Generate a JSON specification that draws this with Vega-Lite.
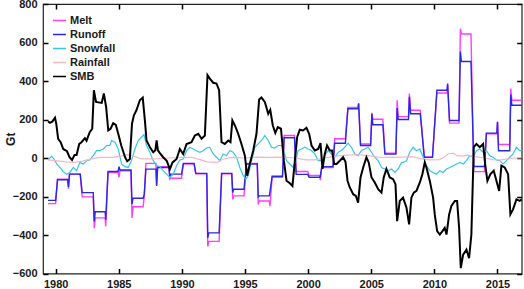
{
  "$schema": "https://vega.github.io/schema/vega-lite/v6.json",
  "width": 478.7,
  "height": 269.5,
  "autosize": "none",
  "padding": {"left": 43, "top": 4, "right": 2.3, "bottom": 15.5},
  "background": "white",
  "config": {
    "view": {"stroke": "#222222", "strokeWidth": 1.2},
    "axis": {"ticks": true, "zindex": 1, "labelFont": "Liberation Sans", "labelFontWeight": "bold", "labelFontSize": 11, "labelColor": "#1a1a1a", "tickColor": "#000000", "tickWidth": 1.5, "tickSize": 5, "tickOpacity": 1, "offset": -5, "domain": false, "grid": false, "titleFont": "Liberation Sans", "titleFontWeight": "bold", "titleFontSize": 12, "titleColor": "#1a1a1a"},
    "legend": {"labelFont": "Liberation Sans", "labelFontWeight": "bold", "labelFontSize": 11, "labelColor": "#1a1a1a", "padding": 0, "rowPadding": 1, "symbolSize": 169, "symbolStrokeWidth": 1.5, "labelOffset": 3}
  },
  "datasets": {
    "melt": [
      {"t":1979.4,"v":-237},{"t":1980.0,"v":-237},{"t":1980.15,"v":-110},{"t":1980.95,"v":-110},{"t":1981.02,"v":-160},{"t":1981.1,"v":-84},{"t":1981.95,"v":-84},{"t":1982.1,"v":-202},{"t":1982.98,"v":-202},{"t":1983.06,"v":-365},{"t":1983.14,"v":-311},{"t":1983.92,"v":-311},{"t":1983.97,"v":-355},{"t":1984.15,"v":-75},{"t":1984.95,"v":-75},{"t":1985.02,"v":-100},{"t":1985.1,"v":-66},{"t":1985.97,"v":-66},{"t":1986.05,"v":-311},{"t":1986.13,"v":-253},{"t":1986.93,"v":-253},{"t":1987.02,"v":-200},{"t":1987.15,"v":-28},{"t":1987.95,"v":-28},{"t":1988.0,"v":-140},{"t":1988.08,"v":-45},{"t":1988.97,"v":-45},{"t":1989.05,"v":-110},{"t":1989.12,"v":-105},{"t":1989.97,"v":-105},{"t":1990.12,"v":-31},{"t":1990.97,"v":-31},{"t":1991.1,"v":-82},{"t":1991.97,"v":-82},{"t":1992.05,"v":-459},{"t":1992.13,"v":-433},{"t":1992.95,"v":-433},{"t":1993.15,"v":-82},{"t":1993.95,"v":-82},{"t":1994.03,"v":-215},{"t":1994.1,"v":-197},{"t":1994.92,"v":-197},{"t":1995.12,"v":-28},{"t":1995.97,"v":-28},{"t":1996.05,"v":-241},{"t":1996.12,"v":-223},{"t":1996.93,"v":-223},{"t":1996.98,"v":-250},{"t":1997.15,"v":-100},{"t":1997.97,"v":-100},{"t":1998.1,"v":117},{"t":1998.92,"v":117},{"t":1999.05,"v":-70},{"t":1999.97,"v":-70},{"t":2000.08,"v":-90},{"t":2000.9,"v":-90},{"t":2000.97,"v":-115},{"t":2001.08,"v":-50},{"t":2001.97,"v":-50},{"t":2002.1,"v":100},{"t":2002.95,"v":100},{"t":2003.15,"v":262},{"t":2003.95,"v":262},{"t":2004.0,"v":285},{"t":2004.15,"v":73},{"t":2004.95,"v":73},{"t":2005.05,"v":235},{"t":2005.13,"v":201},{"t":2005.92,"v":201},{"t":2006.08,"v":25},{"t":2006.95,"v":25},{"t":2007.05,"v":300},{"t":2007.13,"v":215},{"t":2007.95,"v":215},{"t":2008.02,"v":335},{"t":2008.12,"v":248},{"t":2008.88,"v":248},{"t":2009.2,"v":5},{"t":2009.85,"v":5},{"t":2010.2,"v":338},{"t":2011.0,"v":338},{"t":2011.05,"v":380},{"t":2011.2,"v":181},{"t":2011.95,"v":181},{"t":2012.06,"v":672},{"t":2012.14,"v":644},{"t":2012.9,"v":644},{"t":2013.12,"v":-71},{"t":2013.97,"v":-71},{"t":2014.12,"v":126},{"t":2014.95,"v":126},{"t":2015.0,"v":190},{"t":2015.08,"v":70},{"t":2015.97,"v":70},{"t":2016.05,"v":361},{"t":2016.14,"v":300},{"t":2016.917,"v":300}
    ],
    "runoff": [
      {"t":1979.4,"v":-220},{"t":1980.0,"v":-220},{"t":1980.15,"v":-113},{"t":1980.95,"v":-113},{"t":1981.02,"v":-150},{"t":1981.1,"v":-84},{"t":1981.95,"v":-84},{"t":1982.1,"v":-180},{"t":1982.98,"v":-180},{"t":1983.06,"v":-330},{"t":1983.14,"v":-279},{"t":1983.92,"v":-279},{"t":1983.97,"v":-320},{"t":1984.15,"v":-70},{"t":1984.95,"v":-70},{"t":1985.02,"v":-45},{"t":1985.1,"v":-62},{"t":1985.97,"v":-62},{"t":1986.05,"v":-240},{"t":1986.13,"v":-209},{"t":1986.93,"v":-209},{"t":1987.02,"v":-190},{"t":1987.15,"v":-58},{"t":1987.95,"v":-58},{"t":1988.0,"v":-145},{"t":1988.08,"v":-49},{"t":1988.97,"v":-49},{"t":1989.05,"v":-100},{"t":1989.12,"v":-84},{"t":1989.97,"v":-84},{"t":1990.12,"v":-28},{"t":1990.97,"v":-28},{"t":1991.1,"v":-80},{"t":1991.97,"v":-80},{"t":1992.05,"v":-415},{"t":1992.13,"v":-389},{"t":1992.95,"v":-389},{"t":1993.15,"v":-80},{"t":1993.95,"v":-80},{"t":1994.03,"v":-180},{"t":1994.1,"v":-162},{"t":1994.92,"v":-162},{"t":1995.12,"v":-31},{"t":1995.97,"v":-31},{"t":1996.05,"v":-202},{"t":1996.12,"v":-197},{"t":1996.93,"v":-197},{"t":1997.15,"v":-95},{"t":1997.97,"v":-95},{"t":1998.1,"v":105},{"t":1998.92,"v":105},{"t":1999.05,"v":-85},{"t":1999.97,"v":-85},{"t":2000.08,"v":-100},{"t":2000.95,"v":-100},{"t":2001.08,"v":-45},{"t":2001.97,"v":-45},{"t":2002.1,"v":77},{"t":2002.95,"v":77},{"t":2003.15,"v":256},{"t":2003.95,"v":256},{"t":2004.0,"v":283},{"t":2004.15,"v":65},{"t":2004.95,"v":65},{"t":2005.05,"v":230},{"t":2005.13,"v":173},{"t":2005.92,"v":173},{"t":2006.08,"v":20},{"t":2006.95,"v":20},{"t":2007.05,"v":260},{"t":2007.13,"v":200},{"t":2007.95,"v":200},{"t":2008.02,"v":318},{"t":2008.12,"v":230},{"t":2008.88,"v":230},{"t":2009.2,"v":3},{"t":2009.85,"v":3},{"t":2010.2,"v":352},{"t":2011.0,"v":352},{"t":2011.05,"v":387},{"t":2011.2,"v":195},{"t":2011.95,"v":195},{"t":2012.06,"v":553},{"t":2012.14,"v":501},{"t":2012.9,"v":501},{"t":2013.12,"v":-44},{"t":2013.97,"v":-44},{"t":2014.12,"v":129},{"t":2014.95,"v":129},{"t":2015.0,"v":187},{"t":2015.08,"v":38},{"t":2015.97,"v":38},{"t":2016.05,"v":330},{"t":2016.14,"v":274},{"t":2016.917,"v":274}
    ],
    "snow": [
      {"t":1979.4,"v":-10},{"t":1979.68,"v":9},{"t":1979.87,"v":-5},{"t":1980.08,"v":-31},{"t":1980.34,"v":-49},{"t":1980.6,"v":-71},{"t":1980.87,"v":-84},{"t":1981.13,"v":-75},{"t":1981.4,"v":-49},{"t":1981.66,"v":-66},{"t":1981.92,"v":-23},{"t":1982.19,"v":-31},{"t":1982.45,"v":-14},{"t":1982.7,"v":-10},{"t":1982.98,"v":12},{"t":1983.24,"v":38},{"t":1983.51,"v":38},{"t":1983.77,"v":47},{"t":1984.04,"v":65},{"t":1984.3,"v":65},{"t":1984.43,"v":91},{"t":1984.7,"v":82},{"t":1984.96,"v":47},{"t":1985.22,"v":-31},{"t":1985.5,"v":-45},{"t":1985.75,"v":-49},{"t":1986.0,"v":-14},{"t":1986.28,"v":47},{"t":1986.54,"v":91},{"t":1986.8,"v":108},{"t":1987.0,"v":122},{"t":1987.2,"v":65},{"t":1987.47,"v":30},{"t":1987.73,"v":-14},{"t":1988.0,"v":-40},{"t":1988.26,"v":-45},{"t":1988.52,"v":-66},{"t":1988.8,"v":-84},{"t":1989.05,"v":-101},{"t":1989.31,"v":-84},{"t":1989.58,"v":-40},{"t":1989.84,"v":-10},{"t":1990.1,"v":-5},{"t":1990.37,"v":38},{"t":1990.63,"v":56},{"t":1990.9,"v":47},{"t":1991.16,"v":38},{"t":1991.42,"v":30},{"t":1991.69,"v":38},{"t":1991.95,"v":52},{"t":1992.2,"v":56},{"t":1992.48,"v":21},{"t":1992.74,"v":4},{"t":1993.01,"v":-14},{"t":1993.27,"v":21},{"t":1993.54,"v":12},{"t":1993.8,"v":38},{"t":1994.06,"v":30},{"t":1994.33,"v":4},{"t":1994.59,"v":-49},{"t":1994.86,"v":-92},{"t":1995.07,"v":-110},{"t":1995.25,"v":-92},{"t":1995.52,"v":-14},{"t":1995.78,"v":56},{"t":1996.04,"v":73},{"t":1996.3,"v":91},{"t":1996.57,"v":117},{"t":1996.84,"v":91},{"t":1997.1,"v":56},{"t":1997.36,"v":52},{"t":1997.63,"v":65},{"t":1997.89,"v":65},{"t":1998.02,"v":47},{"t":1998.29,"v":-14},{"t":1998.55,"v":-31},{"t":1998.81,"v":-49},{"t":1999.03,"v":-14},{"t":1999.21,"v":39},{"t":1999.47,"v":47},{"t":1999.74,"v":56},{"t":2000.0,"v":47},{"t":2000.27,"v":39},{"t":2000.53,"v":21},{"t":2000.8,"v":-14},{"t":2001.06,"v":-14},{"t":2001.32,"v":12},{"t":2001.59,"v":39},{"t":2001.85,"v":21},{"t":2002.11,"v":4},{"t":2002.38,"v":30},{"t":2002.64,"v":39},{"t":2002.9,"v":56},{"t":2003.17,"v":77},{"t":2003.43,"v":56},{"t":2003.7,"v":21},{"t":2003.96,"v":12},{"t":2004.23,"v":39},{"t":2004.49,"v":47},{"t":2004.75,"v":56},{"t":2005.02,"v":30},{"t":2005.28,"v":4},{"t":2005.55,"v":-14},{"t":2005.81,"v":-49},{"t":2006.07,"v":-57},{"t":2006.34,"v":-66},{"t":2006.6,"v":-57},{"t":2006.87,"v":-75},{"t":2007.13,"v":-57},{"t":2007.4,"v":-23},{"t":2007.52,"v":-23},{"t":2007.79,"v":-14},{"t":2008.05,"v":30},{"t":2008.32,"v":56},{"t":2008.58,"v":38},{"t":2008.85,"v":47},{"t":2009.11,"v":4},{"t":2009.37,"v":-40},{"t":2009.64,"v":-66},{"t":2009.9,"v":-75},{"t":2010.16,"v":-84},{"t":2010.43,"v":-66},{"t":2010.69,"v":-75},{"t":2010.96,"v":-57},{"t":2011.22,"v":-49},{"t":2011.48,"v":-40},{"t":2011.75,"v":-31},{"t":2012.01,"v":-23},{"t":2012.28,"v":-31},{"t":2012.54,"v":-14},{"t":2012.8,"v":12},{"t":2013.07,"v":4},{"t":2013.33,"v":38},{"t":2013.6,"v":47},{"t":2013.86,"v":30},{"t":2014.12,"v":38},{"t":2014.39,"v":12},{"t":2014.65,"v":4},{"t":2014.92,"v":-10},{"t":2015.18,"v":-14},{"t":2015.44,"v":-31},{"t":2015.71,"v":-14},{"t":2015.97,"v":4},{"t":2016.23,"v":21},{"t":2016.5,"v":56},{"t":2016.76,"v":38},{"t":2016.917,"v":40}
    ],
    "rain": [
      {"t":1979.4,"v":-10},{"t":1980.0,"v":-14},{"t":1980.8,"v":-20},{"t":1981.5,"v":-23},{"t":1982.0,"v":-18},{"t":1982.8,"v":-5},{"t":1983.5,"v":3},{"t":1984.5,"v":3},{"t":1985.2,"v":10},{"t":1985.6,"v":17},{"t":1986.2,"v":10},{"t":1986.8,"v":-5},{"t":1987.5,"v":-5},{"t":1988.3,"v":-3},{"t":1989.0,"v":0},{"t":1990.0,"v":3},{"t":1990.8,"v":3},{"t":1991.5,"v":-10},{"t":1992.0,"v":-20},{"t":1992.8,"v":-23},{"t":1993.3,"v":-5},{"t":1994.0,"v":3},{"t":1995.0,"v":0},{"t":1996.0,"v":5},{"t":1997.0,"v":3},{"t":1998.0,"v":5},{"t":1999.0,"v":0},{"t":1999.8,"v":-10},{"t":2000.6,"v":-10},{"t":2001.3,"v":0},{"t":2002.2,"v":10},{"t":2003.0,"v":15},{"t":2004.0,"v":17},{"t":2004.8,"v":12},{"t":2005.5,"v":5},{"t":2006.5,"v":3},{"t":2007.5,"v":5},{"t":2008.3,"v":7},{"t":2009.0,"v":-5},{"t":2009.6,"v":-10},{"t":2010.4,"v":-8},{"t":2010.8,"v":5},{"t":2011.1,"v":22},{"t":2011.5,"v":25},{"t":2011.8,"v":12},{"t":2012.2,"v":10},{"t":2012.6,"v":15},{"t":2013.0,"v":10},{"t":2013.5,"v":5},{"t":2014.0,"v":0},{"t":2014.6,"v":-8},{"t":2015.3,"v":-10},{"t":2015.8,"v":-5},{"t":2016.3,"v":0},{"t":2016.917,"v":0}
    ],
    "smb": [
      {"t":1979.4,"v":190},{"t":1979.55,"v":183},{"t":1979.75,"v":190},{"t":1979.95,"v":209},{"t":1980.05,"v":178},{"t":1980.2,"v":99},{"t":1980.4,"v":82},{"t":1980.6,"v":47},{"t":1980.9,"v":35},{"t":1981.1,"v":4},{"t":1981.3,"v":-10},{"t":1981.5,"v":16},{"t":1981.66,"v":16},{"t":1981.87,"v":73},{"t":1982.05,"v":82},{"t":1982.32,"v":103},{"t":1982.45,"v":90},{"t":1982.7,"v":134},{"t":1982.9,"v":152},{"t":1983.03,"v":352},{"t":1983.2,"v":291},{"t":1983.65,"v":286},{"t":1983.82,"v":335},{"t":1984.0,"v":265},{"t":1984.17,"v":143},{"t":1984.35,"v":152},{"t":1984.56,"v":181},{"t":1984.77,"v":172},{"t":1984.96,"v":126},{"t":1985.2,"v":65},{"t":1985.5,"v":4},{"t":1985.67,"v":-17},{"t":1985.88,"v":-5},{"t":1986.05,"v":178},{"t":1986.2,"v":222},{"t":1986.4,"v":248},{"t":1986.67,"v":300},{"t":1986.9,"v":314},{"t":1987.07,"v":195},{"t":1987.2,"v":91},{"t":1987.47,"v":56},{"t":1987.73,"v":30},{"t":1987.9,"v":40},{"t":1988.0,"v":91},{"t":1988.1,"v":40},{"t":1988.26,"v":25},{"t":1988.52,"v":4},{"t":1988.8,"v":-14},{"t":1989.05,"v":-58},{"t":1989.26,"v":-23},{"t":1989.58,"v":-5},{"t":1989.84,"v":47},{"t":1990.1,"v":21},{"t":1990.37,"v":73},{"t":1990.76,"v":82},{"t":1991.03,"v":117},{"t":1991.3,"v":126},{"t":1991.56,"v":100},{"t":1991.82,"v":117},{"t":1992.03,"v":431},{"t":1992.2,"v":414},{"t":1992.48,"v":391},{"t":1992.74,"v":387},{"t":1992.95,"v":352},{"t":1993.14,"v":82},{"t":1993.4,"v":73},{"t":1993.67,"v":91},{"t":1993.85,"v":82},{"t":1994.0,"v":195},{"t":1994.2,"v":169},{"t":1994.46,"v":126},{"t":1994.72,"v":73},{"t":1994.99,"v":12},{"t":1995.17,"v":-92},{"t":1995.38,"v":-31},{"t":1995.65,"v":38},{"t":1995.91,"v":126},{"t":1996.12,"v":304},{"t":1996.3,"v":314},{"t":1996.57,"v":291},{"t":1996.84,"v":230},{"t":1997.0,"v":250},{"t":1997.2,"v":170},{"t":1997.4,"v":130},{"t":1997.6,"v":160},{"t":1997.85,"v":152},{"t":1998.08,"v":-14},{"t":1998.29,"v":-118},{"t":1998.55,"v":-131},{"t":1998.76,"v":-145},{"t":1998.95,"v":-14},{"t":1999.13,"v":108},{"t":1999.34,"v":147},{"t":1999.6,"v":143},{"t":1999.87,"v":157},{"t":2000.08,"v":126},{"t":2000.27,"v":65},{"t":2000.53,"v":39},{"t":2000.8,"v":47},{"t":2000.98,"v":77},{"t":2001.14,"v":-57},{"t":2001.32,"v":21},{"t":2001.5,"v":65},{"t":2001.72,"v":39},{"t":2001.9,"v":39},{"t":2002.06,"v":-31},{"t":2002.25,"v":-31},{"t":2002.51,"v":-14},{"t":2002.77,"v":4},{"t":2002.96,"v":-20},{"t":2003.12,"v":-118},{"t":2003.3,"v":-153},{"t":2003.57,"v":-188},{"t":2003.78,"v":-197},{"t":2003.96,"v":-232},{"t":2004.15,"v":-101},{"t":2004.36,"v":-49},{"t":2004.62,"v":4},{"t":2004.8,"v":-23},{"t":2005.02,"v":-101},{"t":2005.28,"v":-127},{"t":2005.55,"v":-162},{"t":2005.81,"v":-180},{"t":2005.99,"v":-101},{"t":2006.2,"v":-57},{"t":2006.47,"v":-101},{"t":2006.73,"v":-110},{"t":2006.92,"v":-136},{"t":2007.05,"v":-328},{"t":2007.26,"v":-223},{"t":2007.52,"v":-206},{"t":2007.79,"v":-258},{"t":2008.0,"v":-345},{"t":2008.18,"v":-206},{"t":2008.37,"v":-180},{"t":2008.58,"v":-171},{"t":2008.85,"v":-127},{"t":2009.05,"v":-84},{"t":2009.24,"v":-23},{"t":2009.37,"v":-49},{"t":2009.64,"v":-119},{"t":2009.9,"v":-206},{"t":2010.03,"v":-293},{"t":2010.22,"v":-380},{"t":2010.43,"v":-398},{"t":2010.64,"v":-380},{"t":2010.82,"v":-363},{"t":2010.96,"v":-398},{"t":2011.17,"v":-293},{"t":2011.35,"v":-249},{"t":2011.62,"v":-223},{"t":2011.8,"v":-223},{"t":2011.96,"v":-363},{"t":2012.09,"v":-572},{"t":2012.28,"v":-502},{"t":2012.54,"v":-476},{"t":2012.75,"v":-520},{"t":2012.93,"v":-398},{"t":2013.12,"v":56},{"t":2013.33,"v":73},{"t":2013.6,"v":56},{"t":2013.86,"v":73},{"t":2014.02,"v":-31},{"t":2014.2,"v":-119},{"t":2014.44,"v":-84},{"t":2014.7,"v":-66},{"t":2014.92,"v":-119},{"t":2015.13,"v":-171},{"t":2015.31,"v":-40},{"t":2015.57,"v":-49},{"t":2015.84,"v":-84},{"t":2016.02,"v":-293},{"t":2016.23,"v":-267},{"t":2016.5,"v":-215},{"t":2016.76,"v":-223},{"t":2016.917,"v":-215}
    ]
  },
  "layer": [
    {
      "data": {"name": "melt"},
      "mark": {"type": "line", "strokeWidth": 1.4},
      "encoding": {
        "x": {"field": "t", "type": "quantitative", "scale": {"domain": [1979, 2016.917], "nice": false, "zero": false},
              "axis": {"orient": "bottom", "values": [1980, 1985, 1990, 1995, 2000, 2005, 2010, 2015], "format": "d", "labelPadding": 5, "ticks": true, "tickSize": 5, "tickColor": "#000000", "tickWidth": 1.5, "title": null}},
        "y": {"field": "v", "type": "quantitative", "scale": {"domain": [-600, 800], "nice": false, "zero": false},
              "axis": {"orient": "left", "values": [-600, -400, -200, 0, 200, 400, 600, 800], "labelPadding": 6, "ticks": true, "tickSize": 5, "tickColor": "#000000", "tickWidth": 1.5, "title": "Gt", "titlePadding": -5}},
        "color": {"datum": "Melt", "type": "nominal",
                  "scale": {"domain": ["Melt", "Runoff", "Snowfall", "Rainfall", "SMB"], "range": ["#ff3cff", "#2828e6", "#35c6ec", "#f7b5c8", "#000000"]},
                  "legend": {"title": null, "orient": "none", "legendX": 9, "legendY": 9, "symbolType": "stroke"}}
      }
    },
    {
      "data": {"name": "runoff"},
      "mark": {"type": "line", "strokeWidth": 1.4},
      "encoding": {
        "x": {"field": "t", "type": "quantitative", "scale": {"domain": [1979, 2016.917], "nice": false, "zero": false}, "axis": null},
        "y": {"field": "v", "type": "quantitative", "scale": {"domain": [-600, 800], "nice": false, "zero": false}, "axis": null},
        "color": {"datum": "Runoff", "type": "nominal"}
      }
    },
    {
      "data": {"name": "snow"},
      "mark": {"type": "line", "strokeWidth": 1.2},
      "encoding": {
        "x": {"field": "t", "type": "quantitative", "scale": {"domain": [1979, 2016.917], "nice": false, "zero": false}, "axis": null},
        "y": {"field": "v", "type": "quantitative", "scale": {"domain": [-600, 800], "nice": false, "zero": false}, "axis": null},
        "color": {"datum": "Snowfall", "type": "nominal"}
      }
    },
    {
      "data": {"name": "rain"},
      "mark": {"type": "line", "strokeWidth": 1.2},
      "encoding": {
        "x": {"field": "t", "type": "quantitative", "scale": {"domain": [1979, 2016.917], "nice": false, "zero": false}, "axis": null},
        "y": {"field": "v", "type": "quantitative", "scale": {"domain": [-600, 800], "nice": false, "zero": false}, "axis": null},
        "color": {"datum": "Rainfall", "type": "nominal"}
      }
    },
    {
      "data": {"name": "smb"},
      "mark": {"type": "line", "strokeWidth": 2},
      "encoding": {
        "x": {"field": "t", "type": "quantitative", "scale": {"domain": [1979, 2016.917], "nice": false, "zero": false}, "axis": null},
        "y": {"field": "v", "type": "quantitative", "scale": {"domain": [-600, 800], "nice": false, "zero": false}, "axis": null},
        "color": {"datum": "SMB", "type": "nominal"}
      }
    },
    {
      "data": {"name": "rain"},
      "mark": {"type": "line", "opacity": 0},
      "encoding": {
        "x": {"field": "t", "type": "quantitative", "scale": {"domain": [1979, 2016.917], "nice": false, "zero": false},
              "axis": {"orient": "top", "values": [1980, 1985, 1990, 1995, 2000, 2005, 2010, 2015], "labels": false, "ticks": true, "tickSize": 5, "tickColor": "#000000", "tickWidth": 1.5, "title": null}},
        "y": {"field": "v", "type": "quantitative", "scale": {"domain": [-600, 800], "nice": false, "zero": false},
              "axis": {"orient": "right", "values": [-600, -400, -200, 0, 200, 400, 600, 800], "labels": false, "ticks": true, "tickSize": 5, "tickColor": "#000000", "tickWidth": 1.5, "title": null}}
      }
    }
  ],
  "resolve": {"axis": {"x": "independent", "y": "independent"}}
}
